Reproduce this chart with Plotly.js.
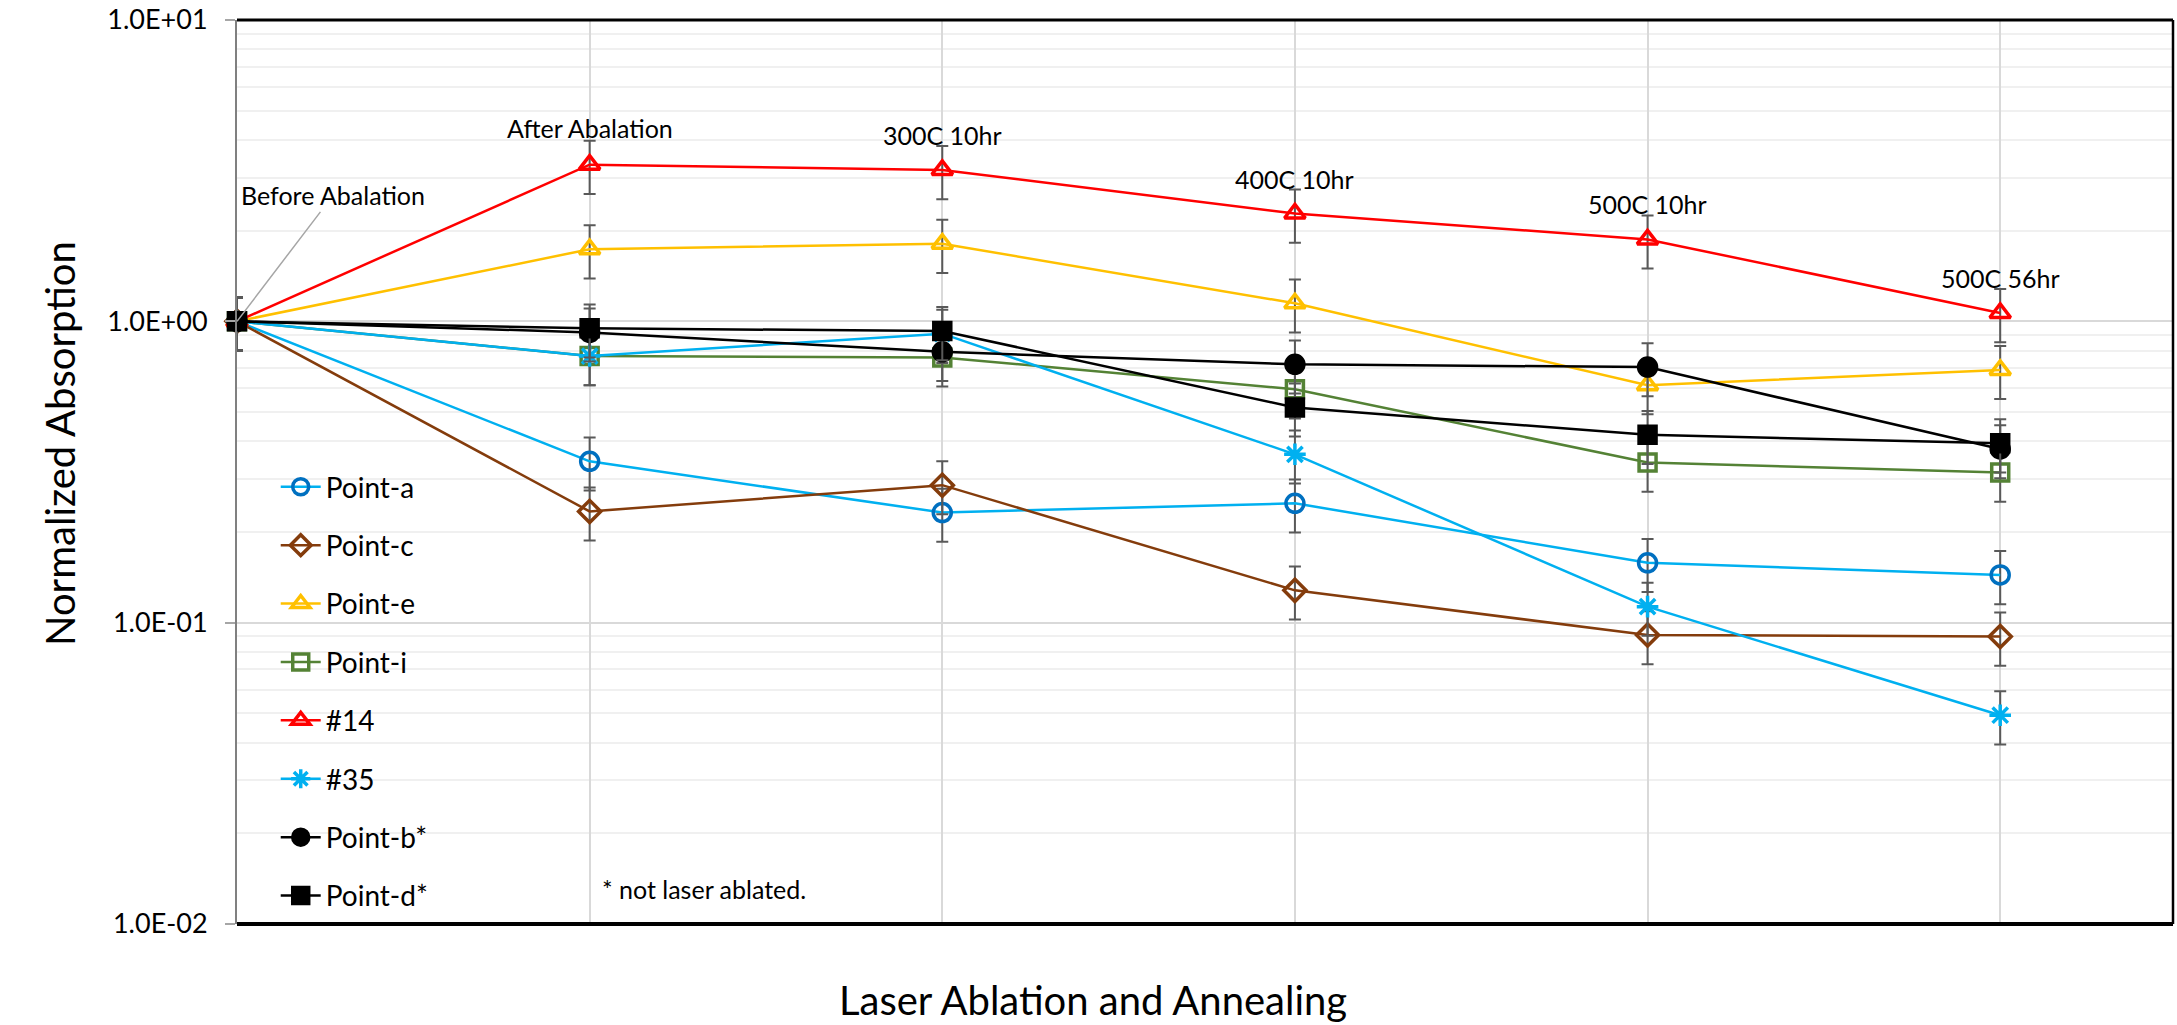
<!DOCTYPE html>
<html>
<head>
<meta charset="utf-8">
<script src="https://cdn.plot.ly/plotly-3.0.1.min.js"></script>
<style>html,body{margin:0;padding:0;background:#fff;}#chart{width:2177px;height:1025px;}</style>
</head>
<body>
<div id="chart"></div>
<script>
// ---- data ----
const stages = ['Before Abalation', 'After Abalation', '300C 10hr', '400C 10hr', '500C 10hr', '500C 56hr'];
const seriesNames = ['Point-a', 'Point-c', 'Point-e', 'Point-i', '#14', '#35', 'Point-b*', 'Point-d*'];
const pointA = [1, 0.343, 0.232, 0.249, 0.158, 0.144];
const pointC = [1, 0.234, 0.286, 0.128, 0.091, 0.090];
const pointE = [1, 1.735, 1.81, 1.148, 0.614, 0.690];
const pointI = [1, 0.767, 0.759, 0.595, 0.340, 0.315];
const s14 = [1, 3.31, 3.18, 2.28, 1.87, 1.066];
const s35 = [1, 0.767, 0.91, 0.362, 0.113, 0.0493];
const pointB = [1, 0.919, 0.792, 0.720, 0.705, 0.377];
const pointD = [1, 0.948, 0.929, 0.518, 0.42, 0.394];
const errorPct = 20;
const yTickVals = [0.01, 0.1, 1, 10];
const yTickLabels = ['1.0E-02', '1.0E-01', '1.0E+00', '1.0E+01'];
const footnote = '* not laser ablated.';
const xTitle = 'Laser Ablation and Annealing';
const yTitle = 'Normalized Absorption';

// ---- styles ----
const values = [pointA, pointC, pointE, pointI, s14, s35, pointB, pointD];
const styles = [
  {line: '#00B0F0', mc: '#0070C0', sym: 'circle-open', size: 18},
  {line: '#843C0C', mc: '#843C0C', sym: 'diamond-open', size: 17},
  {line: '#FFC000', mc: '#FFC000', sym: 'triangle-up-open', size: 18},
  {line: '#548235', mc: '#548235', sym: 'square-open', size: 17},
  {line: '#FF0000', mc: '#FF0000', sym: 'triangle-up-open', size: 18},
  {line: '#00B0F0', mc: '#00B0F0', sym: 'asterisk-open', size: 18},
  {line: '#000000', mc: '#000000', sym: 'circle', size: 18},
  {line: '#000000', mc: '#000000', sym: 'square', size: 17}
];
const FONT = 'Lato, "Open Sans", sans-serif';

const traces = values.map((v, i) => ({
  type: 'scatter',
  mode: 'lines+markers',
  name: seriesNames[i],
  legendgroup: 'g' + i,
  x: stages,
  y: v,
  cliponaxis: false,
  line: {color: styles[i].line, width: 2.5},
  marker: {
    symbol: styles[i].sym,
    size: styles[i].size,
    color: styles[i].mc,
    line: {color: styles[i].mc, width: 3.5}
  },
  error_y: {type: 'percent', value: errorPct, color: '#595959', thickness: 2, width: 6}
}));

const stageLabelY = [null, 0.64, 0.617, 0.474, 0.391, 0.143];
const annotations = [];
for (let i = 1; i < stages.length; i++) {
  annotations.push({
    x: stages[i], y: stageLabelY[i], xref: 'x', yref: 'y',
    text: stages[i], showarrow: false,
    font: {family: FONT, size: 25, color: '#000'}
  });
}
annotations.push({
  x: stages[0], y: 0, xref: 'x', yref: 'y',
  text: stages[0], showarrow: true, arrowhead: 0, arrowwidth: 1.5, arrowcolor: '#A6A6A6',
  ax: 96, ay: -126, standoff: 0, startstandoff: 0,
  font: {family: FONT, size: 25, color: '#000'}
});
annotations.push({
  x: (600 - 237) / 1936, y: 0.02, xref: 'paper', yref: 'paper', xanchor: 'left',
  text: footnote, showarrow: false,
  font: {family: FONT, size: 25, color: '#000'}
});
annotations.push({
  x: (1093 - 237) / 1936, y: -0.084, xref: 'paper', yref: 'paper',
  text: xTitle, showarrow: false, yanchor: 'middle',
  font: {family: FONT, size: 40, color: '#000'}
});
annotations.push({
  x: (34 - 237) / 1936, y: (924 - 444) / 904, xref: 'paper', yref: 'paper',
  text: yTitle, showarrow: false, textangle: -90,
  font: {family: FONT, size: 40, color: '#000'}
});

const layout = {
  width: 2177, height: 1025,
  margin: {l: 237, r: 4, t: 20, b: 101},
  paper_bgcolor: '#fff', plot_bgcolor: '#fff',
  showlegend: true,
  legend: {
    x: 0.02, y: 0.511, xanchor: 'left', yanchor: 'top',
    bgcolor: 'rgba(0,0,0,0)', font: {family: FONT, size: 28, color: '#000'},
    tracegroupgap: 19, itemwidth: 40
  },
  xaxis: {
    type: 'category', range: [0, 5.49],
    showgrid: true, gridcolor: '#D9D9D9', gridwidth: 2,
    showticklabels: false, ticks: '', zeroline: false, showline: false
  },
  yaxis: {
    type: 'log', range: [-2, 1],
    tickmode: 'array', tickvals: yTickVals, ticktext: yTickLabels,
    ticks: 'outside', ticklen: 10, tickcolor: '#A6A6A6', tickwidth: 2,
    ticklabelstandoff: 12,
    tickfont: {family: FONT, size: 27, color: '#000'},
    showgrid: true, gridcolor: '#D9D9D9', gridwidth: 2,
    minor: {showgrid: true, gridcolor: '#F0F0F0', gridwidth: 2, dtick: 'D1', ticks: ''},
    showline: true, linecolor: '#808080', linewidth: 2, zeroline: false
  },
  annotations: annotations,
  shapes: [
    {type: 'line', xref: 'paper', yref: 'paper', x0: 0, x1: 1, y0: 1, y1: 1, line: {color: '#000', width: 3}},
    {type: 'line', xref: 'paper', yref: 'paper', x0: 1, x1: 1, y0: 0, y1: 1, line: {color: '#000', width: 2.5}},
    {type: 'line', xref: 'paper', yref: 'paper', x0: 0, x1: 1, y0: 0, y1: 0, line: {color: '#000', width: 4}}
  ]
};

Plotly.newPlot('chart', traces, layout, {displayModeBar: false, staticPlot: true});
</script>
</body>
</html>
